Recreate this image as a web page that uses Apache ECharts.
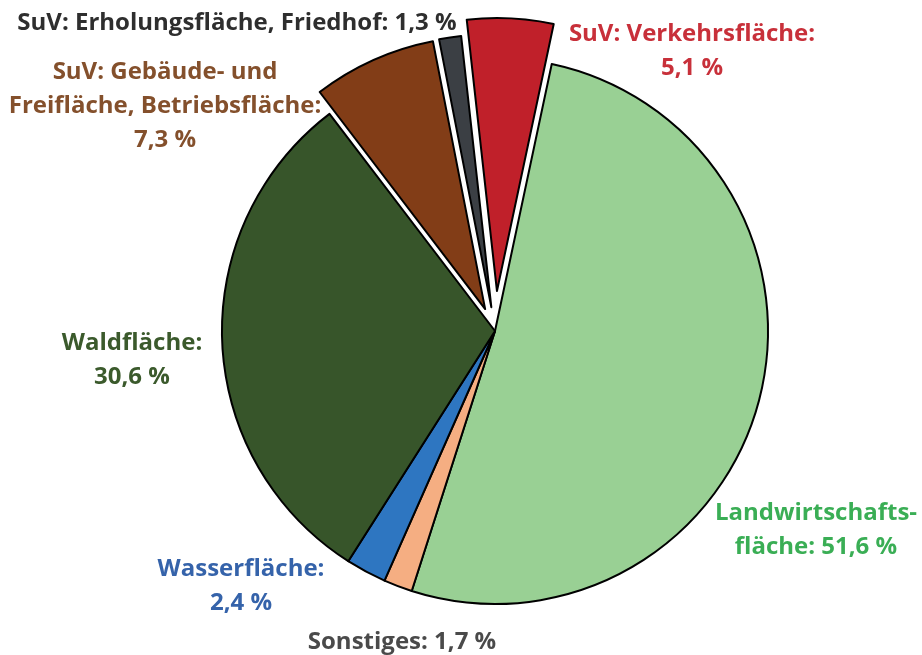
<!DOCTYPE html>
<html>
<head>
<meta charset="utf-8">
<title>Flächennutzung</title>
<script src="https://cdn.jsdelivr.net/npm/echarts@6/dist/echarts.min.js"></script>
<style>
    html, body { margin: 0; padding: 0; background: #fff; }
    #chart { width: 922px; height: 655px; }
</style>
</head>
<body>
<div id="chart"></div>
<script>
// data, clockwise from the top
var names = ['Landwirtschaftsfläche', 'Sonstiges', 'Wasserfläche', 'Waldfläche',
    'SuV: Gebäude- und Freifläche, Betriebsfläche', 'SuV: Erholungsfläche, Friedhof', 'SuV: Verkehrsfläche'];
var values = [51.6, 1.7, 2.4, 30.6, 7.3, 1.3, 5.1];
var labelTpl = ['Landwirtschafts-\nfläche: {v}', 'Sonstiges: {v}', 'Wasserfläche:\n{v}', 'Waldfläche:\n{v}',
    'SuV: Gebäude- und\nFreifläche, Betriebsfläche:\n{v}', 'SuV: Erholungsfläche, Friedhof: {v}', 'SuV: Verkehrsfläche:\n{v}'];

// styles
var sliceColors = ['#99d094', '#f5ae82', '#2e76c1', '#37552a', '#823d17', '#3b3f44', '#c0202a'];
var labelColors = ['#3aae55', '#4a4a4a', '#3563aa', '#3b5a2c', '#84502c', '#2e2e2e', '#c8303a'];
// which slices are pulled out, and by how much
var explodeGroup = [0, 0, 0, 0, 1, 1, 2];
var explodeOffset = [0, 24, 40];
var labelPos = [[816, 530], [402, 642], [241, 586], [132, 360], [165, 106], [237, 23], [692, 51]];

function pct(v) {
    return v.toFixed(1).replace('.', ',') + ' %';
}

// one pie per explode group, the others stay transparent.
// all labels sit on the base pie (group 0)
function buildSeries(group) {
    var data = [];
    for (var i = 0; i < values.length; i++) {
        var on = explodeGroup[i] === group;
        data.push({
            name: names[i],
            value: values[i],
            selected: on && group > 0,
            itemStyle: on ? { color: sliceColors[i], borderColor: '#000', borderWidth: 2 }
                          : { color: 'rgba(0,0,0,0)', borderWidth: 0 },
            label: group === 0 ? { show: true, color: labelColors[i], formatter: labelTpl[i].replace('{v}', pct(values[i])) }
                               : { show: false }
        });
    }
    return {
        type: 'pie',
        center: [495, 331],
        radius: 273,
        startAngle: 78,
        clockwise: true,
        selectedMode: group > 0 ? 'multiple' : false,
        selectedOffset: explodeOffset[group],
        avoidLabelOverlap: false,
        silent: true,
        label: {
            position: 'outside',
            fontFamily: 'Open Sans',
            fontWeight: 'bold',
            fontSize: 24,
            lineHeight: 34,
            align: 'center'
        },
        labelLine: { show: false },
        labelLayout: group === 0 ? function(p) {
            var pos = labelPos[p.dataIndex];
            return { x: pos[0], y: pos[1], align: 'center', verticalAlign: 'middle' };
        } : null,
        emphasis: { disabled: true },
        data: data
    };
}

var chart = echarts.init(document.getElementById('chart'));
chart.setOption({
    animation: false,
    backgroundColor: '#fff',
    series: [buildSeries(0), buildSeries(1), buildSeries(2)]
});
</script>
</body>
</html>
